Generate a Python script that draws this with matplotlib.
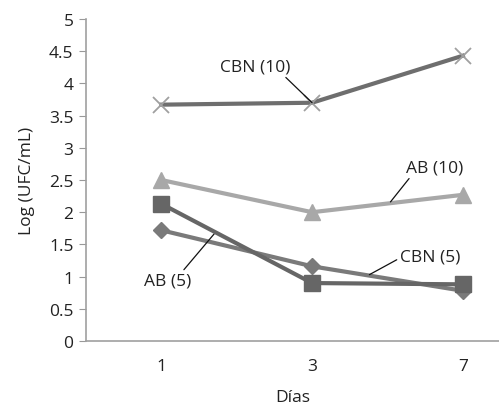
import numpy as np
import matplotlib
matplotlib.use("Agg")
import matplotlib.pyplot as plt

plt.rcParams["font.family"] = ["Open Sans", "DejaVu Sans"]

dias = ["1", "3", "7"]
cbn10 = [3.67, 3.70, 4.43]
ab10 = [2.50, 2.00, 2.27]
ab5 = [2.13, 0.90, 0.88]
cbn5 = [1.72, 1.16, 0.78]
yticks = [0, 0.5, 1, 1.5, 2, 2.5, 3, 3.5, 4, 4.5, 5]

x = np.arange(len(dias))

fig = plt.figure(figsize=(4.99, 4.06), dpi=100)
ax = fig.add_axes([0.1723, 0.1576, 0.8277, 0.7931])

ax.plot(x, cbn10, color="#6e6e6e", lw=3, marker="x", ms=11, mew=1.3,
        mec="#a0a0a0", zorder=3)
ax.plot(x, ab10, color="#a8a8a8", lw=3, marker="^", ms=11, zorder=3)
ax.plot(x, cbn5, color="#7a7a7a", lw=3, marker="D", ms=8, zorder=3)
ax.plot(x, ab5, color="#666666", lw=3, marker="s", ms=11, zorder=4)

ax.set_xlim(-0.5, 2.24)
ax.set_ylim(0, 5)
ax.set_xticks(x)
ax.set_xticklabels(dias)
ax.set_yticks(yticks)
ax.set_yticklabels([f"{t:g}" for t in yticks])
ax.tick_params(axis="y", direction="out", length=5, color="#999999",
               labelsize=12.5, labelcolor="#222222", pad=4)
ax.tick_params(axis="x", length=0, labelsize=12.5, labelcolor="#222222", pad=12)
for s in ["top", "right"]:
    ax.spines[s].set_visible(False)
for s in ["left", "bottom"]:
    ax.spines[s].set_color("#a0a0a0")
    ax.spines[s].set_linewidth(1.2)

ax.set_ylabel("Log (UFC/mL)", fontsize=12.5, color="#222222", labelpad=10)
ax.set_xlabel("Días", fontsize=12.5, color="#222222", labelpad=11)

arrow = dict(arrowstyle="-", color="#111111", lw=0.9, shrinkA=0, shrinkB=0)
lbl = dict(fontsize=12.5, color="#222222", ha="center", va="center")

ax.annotate("CBN (10)", xy=(1.0, cbn10[1]), xytext=(0.62, 4.26),
            arrowprops=dict(arrow, relpos=(0.9, 0.0)), **lbl)
ax.annotate("AB (10)", xy=(1.52, 2.16), xytext=(1.81, 2.69),
            arrowprops=dict(arrow, relpos=(0.1, 0.0)), **lbl)
ax.annotate("AB (5)", xy=(0.36, 1.69), xytext=(0.04, 0.94),
            arrowprops=dict(arrow, relpos=(0.8, 1.0)), **lbl)
ax.annotate("CBN (5)", xy=(1.38, 1.03), xytext=(1.58, 1.31),
            arrowprops=dict(arrow, relpos=(0.0, 0.4)), ha="left",
            va="center", fontsize=12.5, color="#222222")

plt.savefig("out.png", dpi=100)
